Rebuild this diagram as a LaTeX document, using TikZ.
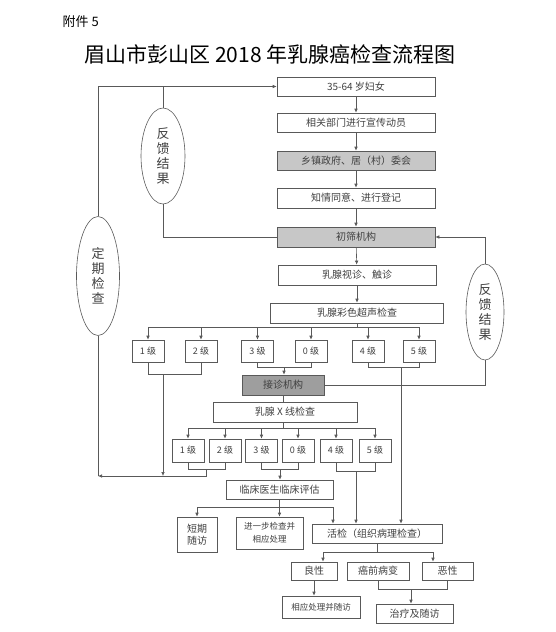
\documentclass[tikz,border=0pt]{standalone}
\usepackage{fontspec}
\newfontfamily\cjk{Noto Sans CJK SC}
\usetikzlibrary{positioning}
\usetikzlibrary{shapes.geometric, arrows.meta}

\tikzset{
    caja/.style={draw=black!65, text=black!75, font=\cjk\fontsize{10}{12}\selectfont,
        inner sep=0pt, minimum height=19pt, align=center},
    cajagris/.style={caja, fill=black!22},
    grado/.style={caja, minimum width=32pt, minimum height=22pt, font=\cjk\fontsize{9}{11}\selectfont},
    elipse/.style={draw=black!65, ellipse, inner sep=0pt, align=center, text=black!75,
        font=\cjk\fontsize{13}{15}\selectfont},
}

\begin{document}
\begin{tikzpicture}[x=1pt, y=-1pt, >={Latex[length=4pt,width=3.5pt]}, line width=0.6pt, draw=black!65]
    \useasboundingbox (0,0) rectangle (556,632);

    % Titulo
    \node[font=\cjk\fontsize{13}{15}\selectfont, anchor=west] (anexo) at (59,22) {附件 5};
    \node[font=\cjk\fontsize{21}{24}\selectfont] (titulo) at (270,54) {眉山市彭山区 2018 年乳腺癌检查流程图};

    % Cajas principales
    \node[caja, minimum width=158pt] (mujeres) at (356,86.5) {35-64 岁妇女};
    \node[caja, minimum width=158pt] (movil) at (356,122.5) {相关部门进行宣传动员};
    \node[cajagris, minimum width=158pt] (gobierno) at (356,160.5) {乡镇政府、居（村）委会};
    \node[caja, minimum width=158pt, minimum height=20pt] (registro) at (356,198) {知情同意、进行登记};
    \node[cajagris, minimum width=158pt, minimum height=20pt] (cribado) at (356,237) {初筛机构};
    \node[caja, minimum width=158pt, minimum height=20pt] (palpa) at (357,275) {乳腺视诊、触诊};
    \node[caja, minimum width=173pt, minimum height=20pt] (eco) at (357,313) {乳腺彩色超声检查};

    \foreach \a/\b in {mujeres/movil, movil/gobierno, gobierno/registro, registro/cribado, cribado/palpa, palpa/eco}
        \draw[->] (\a) -- (\b);

    % Grados (ecografia)
    \foreach \n/\x/\g in {u1/148/1, u2/201/2, u3/257.5/3, u0/311/0, u4/368/4, u5/419/5}
        \node[grado] (\n) at (\x,351) {\g\ 级};
    \coordinate (r1) at (357,327);
    \draw (eco.south) -- (r1);
    \foreach \n in {u1,u2,u3,u0,u4,u5}
        \draw[->] (r1) -| (\n.north);

    % Receptores y rayos X
    \node[caja, fill=black!38, minimum width=82pt, minimum height=20pt] (hosp) at (283,385) {接诊机构};
    \node[caja, minimum width=144pt, minimum height=20pt] (rx) at (285,412) {乳腺 X 线检查};
    \draw (hosp.south) -- (hosp.south |- rx.north);

    % Grados (mamografia)
    \foreach \n/\x/\g in {v1/188/1, v2/225/2, v3/261.5/3, v0/298/0, v4/336/4, v5/375/5}
        \node[grado, minimum height=23pt] (\n) at (\x,450.5) {\g\ 级};
    \coordinate (r2) at (283,428);
    \draw (r2 |- rx.south) -- (r2);
    \foreach \n in {v1,v2,v3,v0,v4,v5}
        \draw[->] (r2) -| (\n.north);

    % Evaluacion y biopsia
    \node[caja, minimum width=107pt] (eval) at (279.5,489.5) {临床医生临床评估};
    \node[caja, minimum width=40pt, minimum height=35pt] (corto) at (197,534.5) {短期\\随访};
    \node[caja, minimum width=67pt, minimum height=32pt, font=\cjk\fontsize{8.5}{13}\selectfont] (mas) at (269.5,533) {进一步检查并\\相应处理};
    \node[caja, minimum width=130pt] (biopsia) at (377,533.5) {活检（组织病理检查）};
    \node[caja, minimum width=46pt, minimum height=18pt] (benigno) at (314,571) {良性};
    \node[caja, minimum width=62pt, minimum height=18pt] (precan) at (378,571) {癌前病变};
    \node[caja, minimum width=51pt, minimum height=18pt] (maligno) at (447.5,571) {恶性};
    \node[caja, minimum width=78pt, minimum height=22pt, font=\cjk\fontsize{8.5}{10}\selectfont] (seguim) at (321,607) {相应处理并随访};
    \node[caja, minimum width=77pt] (trat) at (414.5,613.5) {治疗及随访};

    % Elipses
    \node[elipse, minimum width=44pt, minimum height=96pt] (ef1) at (163,156) {反\\馈\\结\\果};
    \node[elipse, minimum width=38pt, minimum height=96pt] (ef2) at (485,312) {反\\馈\\结\\果};
    \node[elipse, minimum width=43pt, minimum height=119pt] (ep) at (98,276) {定\\期\\检\\查};

    % Uniones de grados
    \draw (u1.south) -- ++(0,12) -| (u2.south);
    \draw (u3.south) -- ++(0,5) -| (u0.south);
    \draw (u4.south) -- ++(0,5) -| (u5.south);
    \coordinate (j12) at (163,374);
    \coordinate (j30) at (284,367);
    \coordinate (j45) at (401,367);
    \draw[->] (j30) -- (j30 |- hosp.north);
    \draw[->] (j45) -- (j45 |- biopsia.north);

    \draw (v1.south) -- ++(0,7) -| (v2.south);
    \draw (v3.south) -- ++(0,7) -| (v0.south);
    \draw (v4.south) -- ++(0,9) -| (v5.south);
    \coordinate (j12b) at (206,469);
    \coordinate (j30b) at (280,469);
    \coordinate (j45b) at (356,471);
    \coordinate (epb) at (98,476);
    \draw[->] (j12) -- (j12 |- epb);
    \draw[->] (j12b) |- (epb);
    \draw[->] (j30b) -- (j30b |- eval.north);
    \draw[->] (j45b) -- (j45b |- biopsia.north);

    % Retroalimentacion
    \coordinate (ept) at (98,86.5);
    \coordinate (e1t) at (163,86.5);
    \coordinate (e1b) at (163,237);
    \coordinate (e2t) at (485,237);
    \coordinate (e2b) at (485,385);
    \draw[->] (ep.north) -- (ept) -- (mujeres.west);
    \draw (ep.south) -- (epb);
    \draw (ef1.north) -- (e1t);
    \draw (ef1.south) -- (e1b) -- (cribado.west);
    \draw (hosp.east) -- (e2b) -- (ef2.south);
    \draw[->] (ef2.north) -- (e2t) -- (cribado.east);

    % Salidas de la evaluacion
    \coordinate (jb) at (279.5,507);
    \coordinate (jm) at (333,507);
    \draw (eval.south) -- (jb);
    \draw[->] (jb) -| (corto.north);
    \draw[->] (jb) -- (jb |- mas.north);
    \draw[->] (jb) -- (jm) -- (jm |- biopsia.north);

    % Resultados de la biopsia
    \coordinate (mb) at (377,552);
    \coordinate (nl) at (323,552);
    \coordinate (pr) at (433,552);
    \draw (biopsia.south) -- (mb);
    \draw[->] (mb) -- (nl) -- (nl |- benigno.north);
    \draw[->] (mb) -- (pr) -- (pr |- maligno.north);
    \draw (precan.south) -- ++(0,9) -| (maligno.south);
    \coordinate (jop) at (411,589);
    \draw[->] (jop) -- (jop |- trat.north);
    \draw[->] (benigno.south) -- (benigno.south |- seguim.north);
\end{tikzpicture}
\end{document}
